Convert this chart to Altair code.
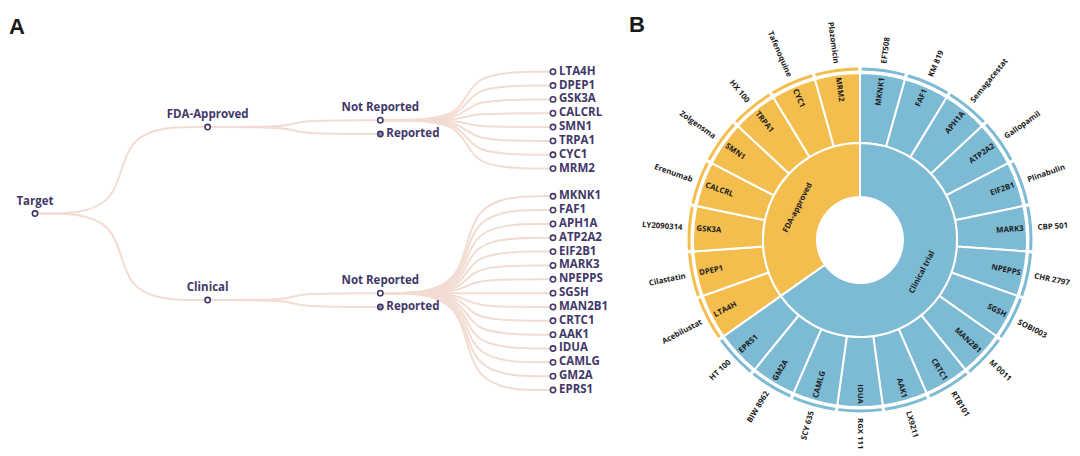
import math
import altair as alt
import pandas as pd

# ---------------- data ----------------
fda_genes = ["LTA4H", "DPEP1", "GSK3A", "CALCRL", "SMN1", "TRPA1", "CYC1", "MRM2"]
fda_drugs = ["Acebilustat", "Cilastatin", "LY2090314", "Erenumab", "Zolgensma",
             "HX 100", "Tafenoquine", "Plazomicin"]
clin_genes = ["MKNK1", "FAF1", "APH1A", "ATP2A2", "EIF2B1", "MARK3", "NPEPPS", "SGSH",
              "MAN2B1", "CRTC1", "AAK1", "IDUA", "CAMLG", "GM2A", "EPRS1"]
clin_drugs = ["EFT508", "KM 819", "Semagacestat", "Gallopamil", "Plinabulin", "CBP 501",
              "CHR 2797", "SOBI003", "M 0011", "RTB101", "LX9211", "RGX 111", "SCY 635",
              "BIW 8962", "HT 100"]
tree_groups = ["FDA-Approved", "Clinical"]
sub_groups = ["Not Reported", "Reported"]
ring_groups = ["Clinical trial", "FDA-approved"]

ORANGE = "#F4BE4F"
BLUE = "#7DBAD4"
NODE = "#3F3868"
LINK = "#F2DCD2"

# ---------------- tree layout (panel A) ----------------
nodes = []
links = []

def add_node(name, label, depth, slot, kind):
    nodes.append(dict(name=name, label=label, depth=depth, slot=slot, kind=kind))
    return (depth, slot)

def add_link(lid, p, c):
    (x0, y0), (x1, y1) = p, c
    xm = (x0 + x1) / 2
    for k, (xx, yy) in enumerate([(x0, y0), (xm, y0), (xm, y1), (x1, y1)]):
        links.append(dict(lid=lid, k=k, depth=xx, slot=yy))

slot = 0
group_pos = []
lid = 0
for gi, (g, leaves) in enumerate(zip(tree_groups, [fda_genes, clin_genes])):
    leaf_pos = []
    for leaf in leaves:
        leaf_pos.append(add_node(f"{g}-{leaf}", leaf, 3, slot, "leaf"))
        slot += 1
    slot += 1
    nr_slot = sum(s for _, s in leaf_pos) / len(leaf_pos)
    nr = add_node(f"{g}-nr", sub_groups[0], 2, nr_slot, "nr")
    rp = add_node(f"{g}-rp", sub_groups[1], 2, nr_slot + 1, "rp")
    gp = add_node(g, g, 1, nr_slot + 0.5, "group")
    group_pos.append(gp)
    for lp in leaf_pos:
        add_link(lid, nr, lp); lid += 1
    add_link(lid, gp, nr); lid += 1
    add_link(lid, gp, rp); lid += 1

root = add_node("Target", "Target", 0, sum(s for _, s in group_pos) / 2, "root")
for gp in group_pos:
    add_link(lid, root, gp); lid += 1

nodes_df = pd.DataFrame(nodes)
links_df = pd.DataFrame(links)

xs = alt.Scale(domain=[0, 3], range=[27, 545])
ys = alt.Scale(domain=[0, 23], range=[63.7, 382])
X = alt.X("depth:Q", scale=xs, axis=None)
Y = alt.Y("slot:Q", scale=ys, axis=None)

link_layer = alt.Chart(links_df).mark_line(
    interpolate="basis", color=LINK, strokeWidth=2
).encode(x=X, y=Y, detail="lid:N", order="k:Q")

node_layer = alt.Chart(nodes_df).mark_point(
    shape="circle", size=28, strokeWidth=1.6, opacity=1
).encode(
    x=X, y=Y,
    fill=alt.condition(alt.datum.kind == "rp", alt.value("#8C8EB2"), alt.value("white")),
    color=alt.value(NODE),
)

font = "Open Sans"
above_lbl = alt.Chart(nodes_df).transform_filter(
    "indexof(['root','group','nr'], datum.kind) >= 0"
).mark_text(dy=-12, fontSize=11.5, fontWeight="bold", font=font, color=NODE).encode(
    x=X, y=Y, text="label:N")
right_lbl = alt.Chart(nodes_df).transform_filter(
    "datum.kind == 'rp'"
).mark_text(dx=6, align="left", fontSize=11.5, fontWeight="bold", font=font, color=NODE).encode(
    x=X, y=Y, text="label:N")
leaf_lbl = alt.Chart(nodes_df).transform_filter(
    "datum.kind == 'leaf'"
).mark_text(dx=6, align="left", fontSize=11.5, fontWeight="bold", font=font, color=NODE).encode(
    x=X, y=Y, text="label:N")

letterA = alt.Chart(pd.DataFrame({"t": ["A"]})).mark_text(
    align="left", baseline="top", fontSize=22, fontWeight="bold", font="Liberation Sans", color="#1a1a1a"
).encode(x=alt.value(1), y=alt.value(9), text="t:N")

panelA = alt.layer(link_layer, node_layer, above_lbl, right_lbl, leaf_lbl, letterA).properties(
    width=612, height=440)

# ---------------- sunburst (panel B) ----------------
genes = clin_genes + fda_genes
drugs = clin_drugs + fda_drugs
grp = [ring_groups[0]] * len(clin_genes) + [ring_groups[1]] * len(fda_genes)
N = len(genes)
outer_df = pd.DataFrame(dict(gene=genes, drug=drugs, grp=grp,
                             start=list(range(N)), end=list(range(1, N + 1))))
outer_df["mid"] = outer_df["start"] + 0.5
inner_df = pd.DataFrame(dict(grp=ring_groups, start=[0, len(clin_genes)],
                             end=[len(clin_genes), N]))
inner_df["mid"] = (inner_df["start"] + inner_df["end"]) / 2

CX, CY = 240, 232
th_scale = alt.Scale(domain=[0, N], range=[0, 2 * math.pi])
color = alt.Color("grp:N", scale=alt.Scale(domain=ring_groups, range=[BLUE, ORANGE]), legend=None)
cx, cy = alt.value(CX), alt.value(CY)

outer_arc = alt.Chart(outer_df).mark_arc(radius=167, radius2=97, stroke="white", strokeWidth=2).encode(
    theta=alt.Theta("start:Q", scale=th_scale), theta2="end:Q", color=color, x=cx, y=cy)
thin_arc = alt.Chart(outer_df).mark_arc(radius=172.5, radius2=169.5, padAngle=0.014).encode(
    theta=alt.Theta("start:Q", scale=th_scale), theta2="end:Q", color=color, x=cx, y=cy)
inner_arc = alt.Chart(inner_df).mark_arc(radius=97, radius2=43, stroke="white", strokeWidth=2).encode(
    theta=alt.Theta("start:Q", scale=th_scale), theta2="end:Q", color=color, x=cx, y=cy)

deg = f"datum.mid * 360 / {N}"
ang_calc = f"({deg}) <= 180 ? ({deg}) - 90 : ({deg}) + 90"
right_half = f"({deg}) <= 180"
left_half = f"({deg}) > 180"

sfont = "Open Sans"
def radial_text(field, r, align, filt, size):
    return alt.Chart(outer_df).transform_calculate(ang=ang_calc).transform_filter(filt).mark_text(
        align=align, baseline="middle", fontSize=size, fontWeight="bold", font=sfont, color="#1a1a1a"
    ).encode(theta=alt.Theta("mid:Q", scale=th_scale), radius=alt.value(r),
             angle=alt.Angle("ang:Q", scale=None), text=f"{field}:N", x=cx, y=cy)

gene_r = radial_text("gene", 164, "right", right_half, 7.8)
gene_l = radial_text("gene", 164, "left", left_half, 7.8)
drug_r = radial_text("drug", 178, "left", right_half, 7.8)
drug_l = radial_text("drug", 178, "right", left_half, 7.8)

inner_txt = alt.Chart(inner_df).transform_calculate(
    ang=f"(({deg}) > 90 && ({deg}) < 270) ? ({deg}) - 180 : ({deg})"
).mark_text(align="center", baseline="middle", fontSize=7.8, fontWeight="bold", font=sfont,
            color="#1a1a1a").encode(
    theta=alt.Theta("mid:Q", scale=th_scale), radius=alt.value(70),
    angle=alt.Angle("ang:Q", scale=None), text="grp:N", x=cx, y=cy)

letterB = alt.Chart(pd.DataFrame({"t": ["B"]})).mark_text(
    align="left", baseline="top", fontSize=22, fontWeight="bold", font="Liberation Sans", color="#1a1a1a"
).encode(x=alt.value(9), y=alt.value(7), text="t:N")

panelB = alt.layer(outer_arc, thin_arc, inner_arc, gene_r, gene_l, drug_r, drug_l, inner_txt,
                   letterB).properties(width=452, height=440)

chart = alt.hconcat(panelA, panelB, spacing=0).properties(
    padding=0, background="white").configure_view(strokeWidth=0, stroke="transparent")

chart.save("out.html", embed_options={"renderer": "svg", "actions": False})
